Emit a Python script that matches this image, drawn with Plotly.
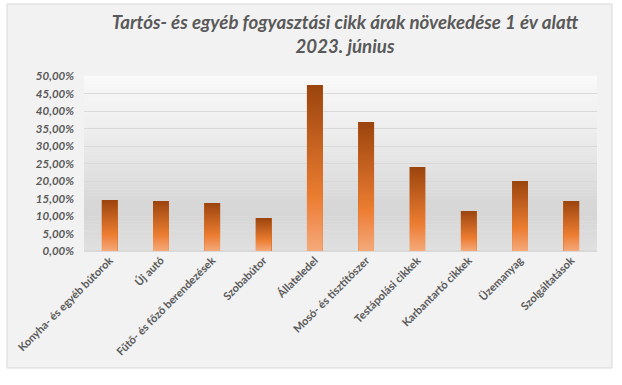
import plotly.graph_objects as go

categories = ["Konyha- és egyéb bútorok", "Új autó", "Fűtő- és főző berendezések", "Szobabútor",
              "Állateledel", "Mosó- és tisztítószer", "Testápolási cikkek", "Karbantartó cikkek",
              "Üzemanyag", "Szolgáltatások"]
values = [0.1457, 0.1429, 0.1371, 0.0943, 0.4743, 0.3686, 0.2400, 0.1143, 0.2000, 0.1429]
title_lines = ["Tartós- és egyéb fogyasztási cikk árak növekedése 1 év alatt", "2023. június"]

W, H = 622, 385
L, R, T, B = 84, 25, 76, 134
bar_w = 0.31
idx = list(range(len(categories)))

fig = go.Figure()
fig.add_trace(go.Bar(x=idx, y=values, width=bar_w, marker=dict(color="#d2691e", line=dict(width=0)),
                     showlegend=False, hoverinfo="y"))

# gradient overlay for each bar
scale = [[0, "#f4aa7a"], [0.22, "#ef8a4a"], [0.32, "#ec7d31"], [1, "#9b440e"]]
for i, v in zip(idx, values):
    h = bar_w / 2
    fig.add_trace(go.Scatter(x=[i - h, i + h, i + h, i - h, i - h], y=[0, 0, v, v, 0],
                             mode="lines", line=dict(width=0), fill="toself",
                             fillgradient=dict(type="vertical", colorscale=scale),
                             showlegend=False, hoverinfo="skip"))

shapes = []
# chart area background + border
shapes.append(dict(type="rect", xref="paper", yref="paper", layer="below",
                   x0=(7 - L) / (W - L - R), x1=(612 - L) / (W - L - R),
                   y0=-(368 - (H - B)) / (H - T - B), y1=1 + (T - 4) / (H - T - B),
                   fillcolor="#f2f2f2", line=dict(color="#d9d9d9", width=1)))
# plot area vertical gradient (strips)
stops = [(0.0, 250), (0.1, 245), (0.3, 238), (0.5, 228), (0.62, 221), (0.72, 215), (0.8, 214), (0.9, 219), (1.0, 224)]
N = 60
def shade(t):
    for (a, ca), (b, cb) in zip(stops[:-1], stops[1:]):
        if a <= t <= b:
            return ca + (cb - ca) * (t - a) / (b - a)
    return stops[-1][1]
for k in range(N):
    t = (k + 0.5) / N
    c = int(round(shade(t)))
    shapes.append(dict(type="rect", xref="paper", yref="paper", layer="below",
                       x0=0, x1=1, y0=1 - (k + 1) / N, y1=1 - k / N + 0.002,
                       fillcolor=f"rgb({c},{c},{c})", line=dict(width=0)))

fig.update_layout(
    width=W, height=H,
    margin=dict(l=L, r=R, t=T, b=B),
    paper_bgcolor="white", plot_bgcolor="rgba(0,0,0,0)",
    separators=", ",
    shapes=shapes,
    bargap=0,
    title=dict(text="<br>".join(title_lines), x=345 / W, xanchor="center", y=1 - 29 / H, yanchor="middle",
               font=dict(family="Lato", size=18.7, color="#595959", weight="bold", style="italic")),
    xaxis=dict(range=[-0.5, len(categories) - 0.5], tickvals=idx, ticktext=categories, tickangle=-45,
               showgrid=False, zeroline=False, showline=False, ticks="", automargin=False,
               tickfont=dict(family="Lato", size=11, color="#595959", weight="bold")),
    yaxis=dict(range=[0, 0.5], dtick=0.05, tickformat=".2%", showgrid=True, gridcolor="#d9d9d9",
               gridwidth=1, zeroline=True, zerolinecolor="#d9d9d9", showline=False, ticks="", automargin=False,
               ticklabelstandoff=9,
               tickfont=dict(family="Lato", size=11.5, color="#595959", weight="bold", style="italic")),
)
fig.write_html("out.html", config={"displayModeBar": False},
               post_script="document.body.style.margin='0';")
